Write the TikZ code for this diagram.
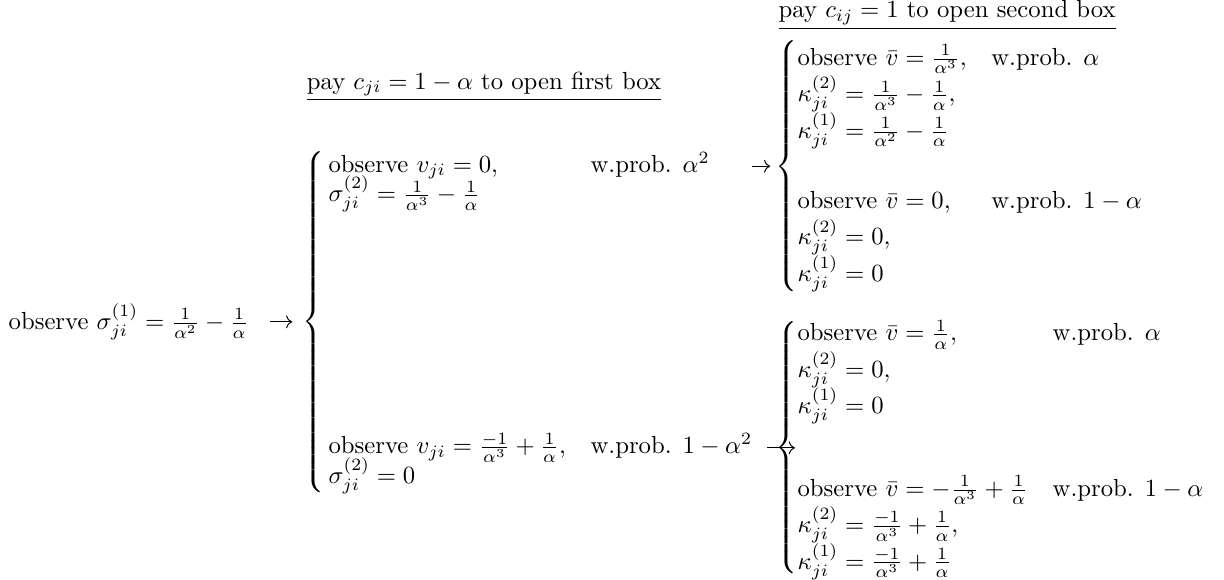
\documentclass[tikz,border=0pt]{standalone}
\usepackage{amsmath}
\usepackage{amssymb}
\usepackage{tikz}
\usetikzlibrary{arrows.meta,positioning,matrix}

\newcommand{\tallbrace}[1]{$\left\{\vcenter{\hbox{\rule{0pt}{#1}}}\right.$}

\begin{document}
\begin{tikzpicture}[
    node distance=6mm and 4mm,
    lbl/.style={inner sep=0pt},
    blk/.style={inner sep=0pt,anchor=west},
    arr/.style={-{To}}
  ]
  \useasboundingbox (0,0) rectangle (495.5pt,-234.4pt);

  % first box: the two outcomes
  \matrix (m1) [matrix of math nodes,inner sep=0pt,anchor=north west,
                column sep=1em,
                nodes={anchor=base west,inner sep=0pt,text height=8.4pt,text depth=3.6pt}]
    at (132.8pt,-61.1pt) {
    \text{observe } v_{ji} = 0, & \text{w.prob. } \alpha^2 \\
    \sigma^{(2)}_{ji} = \frac{1}{\alpha^3} - \frac{1}{\alpha} \\[90pt]
    \text{observe } v_{ji} = \frac{-1}{\alpha^3} + \frac{1}{\alpha}, & \text{w.prob. } 1-\alpha^2 \\
    \sigma^{(2)}_{ji} = 0 \\
  };
  \node[lbl,left=0pt of m1] (br1) {\tallbrace{138pt}};
  \node[lbl,left=21.5pt of br1] (root)
        {observe $\sigma^{(1)}_{ji} = \frac{1}{\alpha^2} - \frac{1}{\alpha}$};
  \node[lbl,above=20pt of br1.north west,anchor=south west,xshift=1.7pt] (pay1)
        {$\underline{\text{pay } c_{ji} = 1-\alpha \text{ to open first box}}$};

  % second box
  \coordinate (rx) at (313.8pt,0);
  \coordinate (top) at (0,0);
  \node[blk] (tr) at (rx |- m1-1-2.east) {$\begin{cases}
      \text{observe } \bar{v} = \frac{1}{\alpha^3}, & \text{w.prob. } \alpha \\
      \kappa^{(2)}_{ji} = \frac{1}{\alpha^3} - \frac{1}{\alpha}, \\
      \kappa^{(1)}_{ji} = \frac{1}{\alpha^2} - \frac{1}{\alpha} \\[14pt]
      \text{observe } \bar{v} = 0, & \text{w.prob. } 1-\alpha \\
      \kappa^{(2)}_{ji} = 0, \\
      \kappa^{(1)}_{ji} = 0
    \end{cases}$};
  \node[blk] (brr) at (rx |- m1-3-2.east) {$\begin{cases}
      \text{observe } \bar{v} = \frac{1}{\alpha}, & \text{w.prob. } \alpha \\
      \kappa^{(2)}_{ji} = 0, \\
      \kappa^{(1)}_{ji} = 0 \\[19pt]
      \text{observe } \bar{v} = -\frac{1}{\alpha^3} + \frac{1}{\alpha} & \text{w.prob. } 1-\alpha \\
      \kappa^{(2)}_{ji} = \frac{-1}{\alpha^3} + \frac{1}{\alpha}, \\
      \kappa^{(1)}_{ji} = \frac{-1}{\alpha^3} + \frac{1}{\alpha}
    \end{cases}$};
  \node[lbl,anchor=north west,xshift=1.2pt] (pay2) at (tr.west |- top)
        {$\underline{\text{pay } c_{ij} = 1 \text{ to open second box}}$};

  \draw[arr,shorten <=8.5pt,shorten >=4pt] (root) -- (br1);
  \draw[arr,shorten <=16.8pt,shorten >=2pt] (m1-1-2) -- (tr);
  \draw[arr,shorten <=6pt,shorten >=-8pt] (m1-3-2) -- (brr);
\end{tikzpicture}
\end{document}
